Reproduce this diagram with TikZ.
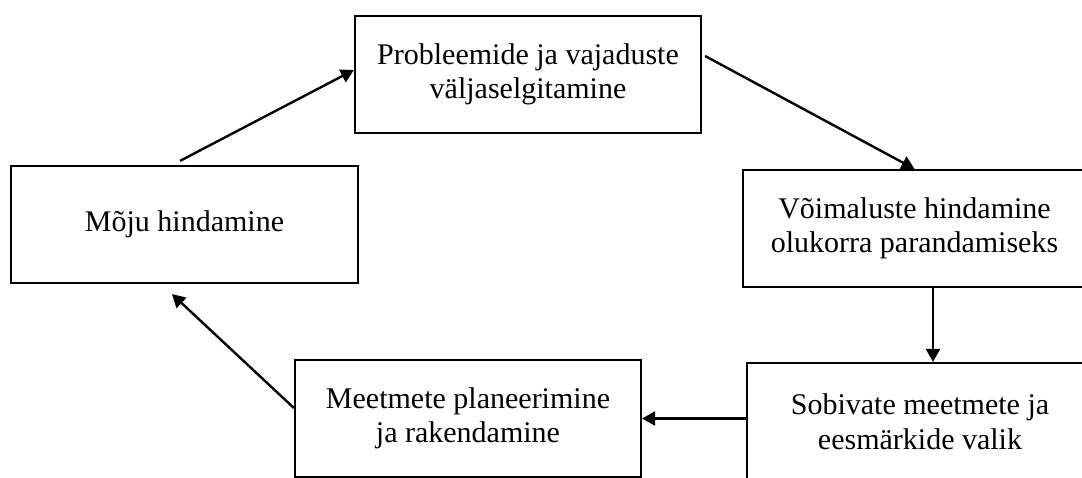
\documentclass[tikz,border=0pt]{standalone}
\usepackage{fontspec}
\setmainfont{Liberation Serif}
\usetikzlibrary{arrows.meta}
\tikzset{
  box/.style={draw=black, line width=2.2pt, minimum height=117pt, inner sep=0pt, align=center,
    font=\fontsize{30}{34.5}\selectfont},
  conn/.style={draw=black, line width=2.4pt, -{Triangle[length=13pt,width=14pt]}}
}
\begin{document}
\begin{tikzpicture}[x=1pt,y=1pt]
\useasboundingbox (0,0) rectangle (1082,477);
\clip (0,0) rectangle (1082,477);
\fill[white] (0,0) rectangle (1082,477);
\node[box, minimum width=346pt] (P) at (528,402.5) {Probleemide ja vajaduste\\väljaselgitamine};
\node[box, minimum width=347pt] (M) at (184.5,252.5) {Mõju hindamine};
\node[box, minimum width=343pt] (V) at (914.5,248.5) {Võimaluste hindamine\\olukorra parandamiseks};
\node[box, minimum width=346pt] (S) at (920,55.5) {Sobivate meetmete ja\\eesmärkide valik};
\node[box, minimum width=346pt] (Mp) at (468,58.5) {Meetmete planeerimine\\ja rakendamine};
\draw[conn] ([shift={(-4.5pt,4pt)}]M.north) -- ([yshift=4.5pt]P.west);
\draw[conn] ([shift={(3pt,18.5pt)}]P.east) -- (V.north);
\draw[conn] ([xshift=18.5pt]V.south) -- ([xshift=18.5pt]V.south |- S.north);
\draw[conn] (S.west |- Mp.east) -- (Mp.east);
\draw[conn] ([yshift=10.5pt]Mp.west) -- ([shift={(-12.5pt,-10pt)}]M.south);
\end{tikzpicture}
\end{document}
